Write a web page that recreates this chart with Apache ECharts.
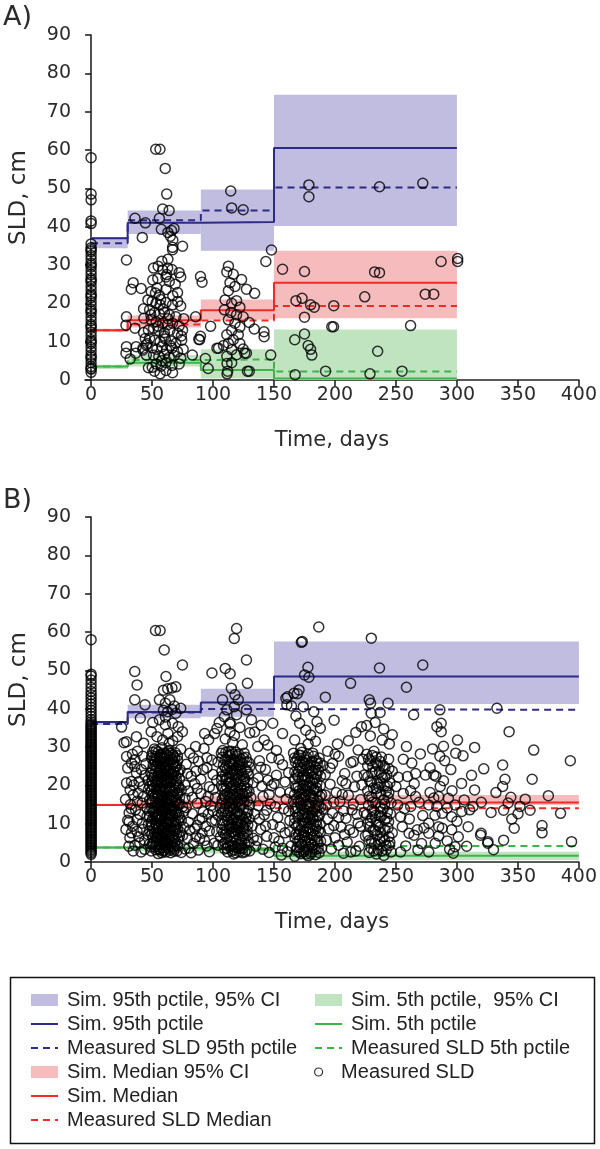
<!DOCTYPE html>
<html><head><meta charset="utf-8">
<script src="https://cdn.jsdelivr.net/npm/echarts@6/dist/echarts.min.js"></script>
<style>html,body{margin:0;padding:0;background:#fff}#c{width:600px;height:1149px}</style>
</head><body><div id="c"></div>
<script>
// ---------- tick labels ----------
const xTickValues = [0, 50, 100, 150, 200, 250, 300, 350, 400];
const yTickValues = [0, 10, 20, 30, 40, 50, 60, 70, 80, 90];
// ---------- time bins ----------
const binEdgesA = [0, 30, 90, 150, 300];
const binEdgesB = [0, 30, 90, 150, 400];
// ---------- Panel A summaries ----------
const simP95A  = [37.0, 41.0, 41.2, 60.5];
const ciP95LoA = [34.4, 38.1, 33.7, 40.2];
const ciP95HiA = [37.3, 44.2, 49.7, 74.4];
const measP95A = [35.7, 41.7, 44.2, 50.2];
const simMedA  = [13.0, 15.6, 18.2, 25.4];
const ciMedLoA = [12.6, 13.7, 15.7, 16.1];
const ciMedHiA = [13.4, 16.8, 21.0, 33.7];
const measMedA = [13.0, 14.5, 15.5, 19.3];
const simP5A   = [3.5, 4.5, 2.6, 0.4];
const ciP5LoA  = [2.9, 3.5, 0.4, 0.0];
const ciP5HiA  = [4.0, 6.5, 8.0, 13.2];
const measP5A  = [3.5, 5.2, 5.4, 2.2];
// ---------- Panel B summaries ----------
const simP95B  = [36.5, 39.1, 41.6, 48.4];
const ciP95LoB = [35.8, 37.5, 37.9, 41.2];
const ciP95HiB = [36.8, 41.0, 45.2, 57.5];
const measP95B = [36.0, 39.0, 39.9, 39.7];
const simMedB  = [14.9, 15.3, 15.5, 15.5];
const ciMedLoB = [14.6, 14.5, 14.6, 14.9];
const ciMedHiB = [15.2, 16.2, 17.3, 17.5];
const measMedB = [14.9, 14.2, 14.8, 14.0];
const simP5B   = [3.8, 3.6, 3.1, 1.6];
const ciP5LoB  = [3.4, 2.8, 2.2, 0.5];
const ciP5HiB  = [4.1, 4.2, 3.8, 2.7];
const measP5B  = [3.8, 3.6, 3.5, 4.2];
// ---------- Panel A measured SLD ----------
const baselineA = [58,48.5,47,41.5,40.8,35.5,34.5,34,33.5,32.5,31.5,30.5,30,29.5,28.5,27.5,26.5,26,25.5,24.5,23.5,22.5,22,21.5,20.5,19.5,18.5,18,17.5,16.5,15.5,14.5,14,13.5,12.5,11.5,10.5,10,9.5,8.5,7.5,6.5,6,5.5,4.5,3.5,3,2.8,2];
const visitsA = [
 [29,31.3],[36,42.2],[42,37.2],[44.5,41],[34.5,25.4],[33,23.7],[41,23.9],[29,16.5],[28.6,14.3],[36,13.5],[43,12.4],[44.4,10.8],[29,8.7],[28.6,7],[37,8.7],[36.6,7],[42.5,7.8],[43,18.6],[46,9.5],[47,3.2],[32,5.5],
 [53,60.2],[56.5,60.2],[60.8,55.2],[62,48.5],[58.7,44.6],[64,44.2],[56,42.2],[57.6,39.3],[63,38.5],[66,39],[68,39.5],[65,37.5],[67,36.5],[66.8,34.6],[66.8,34],[75,34.9],
 [51.2,29.2],[55,29.7],[58.7,28.7],[62.8,29.2],[66.3,28.8],[61.4,26.9],[54.7,26.5],[50.6,26.1],[72.2,28],[73.5,26.9],[70.9,22.8],[64.1,25.7],[49.3,23.1],[52.8,22.7],[56,22.1],[61.4,23.6],[46.6,20.9],[50.1,20.5],[53.3,20],[56.6,19.6],[61.4,20.2],[66.8,19.6],[73.5,19.3],[48,18.3],[52,17.6],[56,17.2],[60.1,17.6],[64.1,17],[69.5,16.5],[43.3,16.1],[49.3,15.7],[53.3,15.2],[58.7,14.8],[62.8,14.4],[66.8,14.8],[72.2,14.1],[51.2,13.5],[55.5,12.9],[60.1,12.4],[64.6,13],[70.9,12.2],[75,13],[48,10.9],[52,10.4],[56.6,10],[60.9,10.7],[65.5,10.2],[69.5,9.6],[74.3,10.4],[45.3,9.1],[50.1,8.4],[53.9,8],[58.2,8.7],[61.9,7.8],[66.3,8.3],[70.9,7.4],[75.5,8],[51.2,6.5],[55.5,6.1],[60.1,6.7],[64.1,5.9],[68.2,6.4],[73.5,5.7],[53.3,4.2],[57.3,3.6],[61.4,4.5],[66.3,3.8],[72.2,4.2],[52,2.3],[56.6,1.6],[61.4,2.5],[66.8,1.9],[50.1,3.3],[45.3,6.5],[42.6,8.3],
 [57,21],[59,18.5],[63,16],[55,14],[60,11.5],[65,9],[58,5],[62,27.5],[54,24],[67,22],[69,25],[71,20.5],[47,13],[49,17],[74,11.5],[76,16],[58,31],[63,31.5],
 [89.7,27],[91,25.5],[89,10.5],[88.3,10.6],[89.7,11.4],[85.7,16.5],[93.7,5.6],[103.2,8.3],[83,6.5],[98,14],[96,3],
 [112.6,29.7],[111.3,28.2],[116.6,27.6],[123.4,26.2],[113.9,25.4],[127.4,23.7],[134.1,22.6],[112.6,23.3],[118,24.4],[109.9,20.9],[115.3,20],[119.3,20.7],[122,19],[109.3,18.3],[114.6,17.6],[119.3,17],[124.7,16.5],[112.6,15.7],[118,14.8],[122,13.8],[115.3,12.9],[111.3,11.8],[120.7,11.8],[116.6,10.5],[112.6,9.6],[122,9.5],[124.7,8.1],[115.3,7.9],[119.3,6.6],[111.3,6.2],[115.3,4.5],[112,2.3],[128.2,2.3],[104.5,8.3],[108.6,9],[126,7],[129.7,15],[133.8,13.3],[141.8,12.6],[127.4,7],
 [114.5,49.3],[115.3,44.9],[124.7,44.4],[143.3,30.9],[147.9,33.9],[141.9,11.3],[147.3,6.5],[111.5,1.6],[129.7,2.3],[111.5,4.3],
 [157,28.9],[175,28.3],[232.5,28.2],[236.5,28],[287,30.9],[300.6,31.7],[300.6,30.9],[168,20.7],[173,21.3],[180,19.6],[183,19],[199,19.4],[175,16.4],[224.4,21.7],[274,22.4],[281,22.4],[197.4,13.9],[198.8,13.9],[262,14.2],[167.3,1.4],[192.3,2.3],[228.7,1.6],[255,2.3],
 [178.6,50.9],[178.6,47.8],[236.5,50.4],[272,51.3],[167,10.5],[175,12],[178,9],[180,8],[181,6.5],[235,7.5]
];
// ---------- Panel B measured SLD ----------
const baselineB = [2,2.4,2.8,3.2,3.6,4,4.4,4.8,5.2,5.6,6,6.4,6.8,7.2,7.6,8,8.4,8.8,9.2,9.6,10,10.4,10.8,11.2,11.6,12,12.4,12.8,13.2,13.6,14,14.4,14.8,15.2,15.6,16,16.4,16.8,17.2,17.6,18,18.4,18.8,19.2,19.6,20,20.4,20.8,21.2,21.6,22,22.4,22.8,23.2,23.6,24,24.4,24.8,25.2,25.6,26,26.4,26.8,27.2,27.6,28,28.4,28.8,29.2,29.6,30,30.4,30.8,31.2,31.6,32,32.4,32.8,33.2,33.6,34,34.4,34.8,35.2,35.6,36,36.6,37.2,38,38.8,39.6,40.4,41.2,42,42.8,43.6,44.5,45.5,46.5,47.5,48.5,49,58];
const visitsB = [
 [25,35.2],[27,31.1],[29,31.4],[37.2,32.7],[43.1,31],[35.8,49.7],[37.7,46.2],[35.8,42.3],[44.2,41],[40.4,37.5],
 [33.1,25.8],[35.8,24.9],[29.1,20.6],[33.1,21],[37.2,23.2],[41.2,24.1],[38.5,18],[42.5,19.7],[46.6,21.3],[28.2,16.3],[32.3,15],[36.4,13.6],[31.2,12.8],[41.9,15.4],[45.9,11.9],[37.7,11],[28.6,8.5],[33.1,7.6],[37.7,8],[31.8,6.3],[42.5,8.5],[46.6,7.2],[34.5,2.9],[43.9,3.3],[39.9,5],[48,4.7],[49.3,2.9],[31.2,10.5],[45.9,14],[34.5,17.5],[43.1,17.1],[39.3,21],[48,16.2],[29.1,27.5],[33.9,28.1],[36,26.7],[42.5,27.6],
 [30,24.5],[32,18.8],[35,20.1],[38,15.9],[40,12.4],[44,22.6],[47,18.9],[30,10.9],[34,9.3],[39,6.6],[44,5.6],[47,9.8],[31,4.1],[36,4.4],[41,2.6],[45,25.6],[38,28.9],[33,13.9],[42,10.1],[48,13.3],
 [52,29.5],[55,28.7],[58,29.8],[61,28.2],[64,29.1],[67,27.8],[54,27.1],[57,26.4],[60,27.3],[63,26.2],[66,26.9],[69,28.5],[71,26.5],[50,27.8],
 [51,25.4],[53,23.8],[56,24.9],[59,23.1],[62,25.6],[65,24.2],[68,23.5],[70,25.1],[55,22.4],[58,25.7],[61,22.8],[64,22.1],[67,25.3],[73,24.1],[49,23.2],
 [50,21.2],[52,19.4],[55,20.8],[57,18.6],[60,21.5],[62,19.2],[65,20.6],[67,18.3],[70,21.3],[72,19.5],[54,18.1],[59,19.9],[63,21.9],[68,20.1],[74,18.8],[48,19.8],
 [50,17.3],[53,15.6],[55,17.7],[58,14.8],[60,16.9],[63,15.3],[65,17.4],[68,14.6],[70,16.2],[73,15.1],[52,14.3],[57,16.3],[61,14.1],[66,15.9],[71,17.6],[75,14.4],[49,15.4],
 [51,13.2],[54,11.5],[56,13.8],[59,10.6],[61,12.7],[64,11.1],[66,13.5],[69,10.8],[72,12.4],[53,10.2],[58,12.1],[62,10.3],[67,11.9],[74,10.9],[48,11.8],[76,13.2],
 [50,9.4],[52,7.5],[55,8.8],[57,6.6],[60,9.1],[62,7.2],[65,8.4],[68,6.3],[70,9.7],[73,7.8],[54,6.1],[59,7.9],[63,9.8],[67,8.1],[75,6.9],[48,8.1],
 [51,5.1],[53,3.2],[56,4.6],[58,2.4],[61,5.5],[63,3.6],[66,4.9],[68,2.8],[71,4.2],[74,2.5],[55,2.2],[60,3.1],[64,5.8],[69,5.4],[49,3.9],[77,3.4],
 [53,27.5],[56,21.6],[59,16.4],[62,12.9],[57,9.9],[60,5.9],[64,19.1],[66,23.1],[55,15.2],[58,11.4],[61,7.4],[63,28.8],[57,24.4],[59,13.3],[54,20.3],[62,17.1],[65,9.2],[56,6.9],[60,24.1],[63,13.9],[58,20.5],[61,18.9],[55,11.9],[64,7.3],[57,28.1],[59,5.2],[62,22.6],
 [50.5,28.6],[53.5,29.1],[56.5,27.9],[59.5,28.4],[62.5,27.7],[65.5,28.3],[68.5,27.1],
 [51.5,26.7],[54.5,25.9],[57.5,27.2],[60.5,26.1],[63.5,25.4],[66.5,26.6],[69.5,24.7],
 [50.5,24.3],[53.5,24.8],[56.5,23.4],[59.5,24.6],[62.5,23.7],[65.5,22.9],[68.5,24.9],[71.5,23.3],
 [51.5,22.1],[54.5,21.4],[57.5,22.8],[60.5,20.6],[63.5,21.2],[66.5,21.8],[69.5,22.5],[72.5,21.7],
 [50.5,20.1],[53.5,18.9],[56.5,19.6],[59.5,18.2],[62.5,20.7],[65.5,19.4],[68.5,18.7],[71.5,19.9],
 [51.5,17.9],[54.5,16.8],[57.5,17.5],[60.5,15.9],[63.5,16.6],[66.5,17.1],[69.5,15.4],[72.5,16.8],
 [50.5,15.9],[53.5,14.6],[56.5,15.7],[59.5,14.2],[62.5,15.1],[65.5,14.3],[68.5,15.8],[71.5,14.9],
 [51.5,13.1],[54.5,12.6],[57.5,13.4],[60.5,11.9],[63.5,12.4],[66.5,12.3],[69.5,13.3],[72.5,11.6],
 [50.5,11.2],[53.5,9.7],[56.5,11.1],[59.5,9.4],[62.5,11.3],[65.5,10.4],[68.5,9.2],[71.5,10.6],
 [51.5,8.6],[54.5,7.4],[57.5,8.3],[60.5,7.1],[63.5,8.2],[66.5,6.9],[69.5,8.4],[72.5,6.7],
 [50.5,6.4],[53.5,5.4],[56.5,5.8],[59.5,4.4],[62.5,5.2],[65.5,4.1],[68.5,4.6],[71.5,5.9],
 [52.5,3.9],[55.5,3.4],[58.5,3.7],[61.5,2.6],[64.5,3.1],[67.5,3.9],[70.5,2.9],
 [49.5,27.1],[52.2,26.2],[55.8,26.8],[58.8,26.9],[61.8,24.4],[64.8,27.4],[67.8,26.1],[70.8,27.7],
 [49.8,22.6],[52.8,21.1],[55.2,23.2],[58.2,22.1],[61.2,21.2],[64.2,23.6],[67.2,22.7],[70.2,20.4],
 [49.2,18.6],[52.2,17.1],[55.8,18.9],[58.8,17.2],[61.8,16.2],[64.8,18.6],[67.8,16.9],[70.8,18.1],
 [49.8,14.1],[52.8,12.2],[55.2,14.9],[58.2,13.6],[61.2,15.6],[64.2,14.2],[67.2,13.9],[70.2,12.7],
 [49.2,10.4],[52.2,11.4],[55.8,9.6],[58.8,8.9],[61.8,10.1],[64.8,12.3],[67.8,10.3],[70.8,8.7],
 [49.8,7.2],[52.8,6.6],[55.2,7.7],[58.2,6.2],[61.2,8.7],[64.2,6.2],[67.2,5.6],[70.2,7.3],
 [50.2,4.6],[53.2,4.4],[56.2,3.1],[59.2,2.9],[62.2,4.1],[65.2,2.4],[68.2,3.4],
 [59.3,44.8],[62.8,45.2],[66.3,45.4],[69.5,45.7],[56,42.3],[60.9,41.4],[64.6,42.3],[68.2,40.7],[59.3,39.6],[62.8,39.2],[66.3,39.8],[69.5,38.8],[73.5,40.1],[50.6,36.4],[56,37.1],[60.9,35.8],[66.8,36.2],[71.4,35.3],[74.9,34],[70.9,32.7],[49.3,34],[54,32.7],[58.7,31.8],[73.5,29.4],[63,33.5],[61,37.8],[64,30.9],[67,31.6],
 [52.8,60.4],[56.6,60.4],[60,55.3],[74.9,51.4],[61.4,48.4],
 [85.7,30.1],[93.1,33.5],[96.4,31.9],[92.6,29.6],[99.1,49.3],[103.2,34.8],[105.1,36.4],[101.3,33.5],
 [78,25.5],[82,22.4],[88,26.3],[95,24.6],[100,22.8],[80,18.5],[85,20.4],[90,17.9],[97,19.6],[102,16.8],[78,14.2],[83,12.6],[87,15.3],[92,13.1],[98,14.7],[104,12.2],[80,10.4],[85,8.7],[89,11.1],[94,9.3],[99,10.6],[103,7.9],[79,6.2],[84,4.8],[88,3.1],[93,5.6],[97,2.7],[101,4.9],[82,2.4],[91,7.5],[96,12.5],[86,23.7],[77,20.1],[81,28.4],[95,27.2],[90,21.6],[104,26.1],[76,9.1],[86,6.6],[100,18.9],
 [77,16.6],[79,23.1],[83,16.9],[87,19.2],[91,11.4],[94,15.8],[97,8.1],[100,13.4],[103,21.3],[81,8.3],[84,27.1],[89,6.1],[95,4.2],[99,26.6],[102,10.9],[80,3.6],[92,24.1],[96,17.1],[87,9.6],[104,4.4],
 [119.3,60.9],[117.4,58.3],[127.4,52.7],[110,50.5],[114,49.1],[128.2,46.6],[115,45.3],[118,43.6],[120.7,42.3],[117.4,40.5],[119.3,38.4],[107.8,42.3],[111.3,39.7],[109.3,37.9],[113.9,36],[113.9,33.9],[117.6,33],[114,36.4],[127.4,39.7],[131.5,37.1],[134.1,33.9],[130.1,33.7],[122,35.1],[116,31.2],[124,30.6],[110,32.1],
 [108,29.1],[112,27.6],[115,28.9],[118,26.4],[121,28.1],[124,25.7],[127,27.3],[130,24.8],[110,24.6],[114,23.1],[117,25.2],[120,22.4],[123,23.9],[126,21.6],[129,22.9],[133,20.7],[107,21.5],[111,19.8],[115,20.9],[118,18.7],[121,20.3],[124,17.9],[128,19.2],[131,16.8],[109,17.2],[113,15.9],[116,17.4],[119,14.6],[122,16.1],[125,13.8],[130,14.9],[134,12.5],[106,14.1],[110,12.3],[114,13.4],[117,11.2],[120,12.8],[123,10.5],[127,11.7],[132,9.4],[108,9.8],[111,8.3],[115,9.6],[118,7.4],[121,8.9],[124,6.8],[128,8.1],[133,6.2],[106,6.5],[110,5.1],[113,6.9],[116,4.3],[119,5.7],[122,3.5],[126,4.8],[130,2.9],[112,2.6],[117,2.1],[124,2.4],[135,4.1],
 [113,26.1],[116,22.7],[119,19.5],[114,16.6],[117,13.9],[120,10.1],[115,7.7],[118,3.9],[121,25.3],[123,19.1],[116,28.2],[112,10.9],[120,15.7],[125,9.2],[111,21.8],[119,24.3],[122,6.1],[114,18.3],
 [107.5,27.3],[110.5,28.6],[113.5,27.9],[116.5,26.8],[119.5,27.7],[122.5,26.9],[125.5,28.4],
 [108.5,25.3],[111.5,24.1],[114.5,25.6],[117.5,23.8],[120.5,24.9],[123.5,22.8],[126.5,24.2],[129.5,25.9],
 [107.5,22.4],[110.5,21.3],[113.5,22.1],[116.5,20.2],[119.5,21.6],[122.5,21.1],[125.5,19.7],[128.5,20.8],
 [108.5,19.1],[111.5,17.9],[114.5,19.4],[117.5,16.2],[120.5,18.1],[123.5,16.4],[126.5,17.8],[129.5,18.4],
 [107.5,16.3],[110.5,15.1],[113.5,14.4],[116.5,15.4],[119.5,13.1],[122.5,14.4],[125.5,15.9],[128.5,13.2],
 [108.5,13.2],[111.5,12.1],[114.5,11.6],[117.5,12.5],[120.5,10.8],[123.5,12.1],[126.5,10.2],[129.5,11.3],
 [107.5,10.9],[110.5,9.4],[113.5,8.6],[116.5,9.1],[119.5,8.2],[122.5,9.9],[125.5,7.4],[128.5,9.7],
 [108.5,7.6],[111.5,6.3],[114.5,5.4],[117.5,6.6],[120.5,4.6],[123.5,5.6],[126.5,6.2],[129.5,5.1],
 [109.5,3.4],[112.5,4.2],[115.5,2.9],[118.5,2.4],[121.5,2.7],[124.5,3.6],[127.5,3.1],
 [106.8,28.4],[109.8,26.6],[112.8,28.8],[115.8,25.8],[118.8,28.6],[121.8,26.1],[124.8,27.1],[127.8,26.2],
 [107.2,23.6],[110.2,22.7],[113.2,24.9],[116.2,23.9],[119.2,22.9],[122.2,24.1],[125.2,22.3],[128.2,23.6],
 [106.8,19.9],[109.8,18.6],[112.8,20.6],[115.8,18.9],[118.8,20.9],[121.8,17.6],[124.8,21.1],[127.8,18.1],
 [107.2,15.3],[110.2,16.9],[113.2,17.1],[116.2,14.1],[119.2,16.7],[122.2,15.2],[125.2,17.2],[128.2,15.9],
 [106.8,12.6],[109.8,13.9],[112.8,12.9],[115.8,11.1],[118.8,10.4],[121.8,12.3],[124.8,11.1],[127.8,12.8],
 [107.2,8.4],[110.2,7.2],[113.2,9.9],[116.2,7.9],[119.2,9.3],[122.2,7.6],[125.2,8.7],[128.2,6.9],
 [108.2,4.6],[111.2,3.6],[114.2,4.1],[117.2,3.2],[120.2,3.7],[123.2,4.4],[126.2,2.6],
 [142,31.8],[136.7,30.1],[144.9,30.5],[139.5,35.7],[159.7,42.7],[161.1,43.1],[160.5,41],[164.3,40.7],
 [138,26.4],[143,24.1],[148,27.2],[152,22.6],[157,25.4],[162,23.3],[140,19.8],[146,17.6],[150,20.5],[155,18.2],[160,16.4],[137,14.7],[142,12.3],[147,15.1],[153,11.6],[158,13.9],[163,10.8],[139,8.5],[144,6.7],[149,9.8],[154,5.4],[159,7.6],[164,4.2],[141,3.3],[146,2.5],[151,3.9],[156,1.8],[161,2.7],[145,21.3],[152,29.1],[157,33.5],[149,36.2],[163,18.1],[138,11.2],
 [137,21.9],[141,17.1],[144,13.5],[148,19.9],[151,14.4],[155,9.1],[159,20.9],[162,13.3],[136,5.6],[143,9.4],[150,6.3],[157,3.6],[163,7.9],[139,24.7],[154,26.8],
 [166.4,44],[170.5,44.9],[172.4,57.3],[173.2,57.5],[186.7,61.3],[177.8,50.8],[175.1,48.8],[178.6,48.2],[169.1,43.9],[192.1,43],[174,40.5],[182.6,39.2],[185.3,36.6],[199.3,37],[168,38.1],[171,36.2],[176,34.4],[180,33.1],[184,31.5],[188,34.9],[167,31.8],[172,29.6],[178,30.8],
 [166,28.4],[169,26.9],[172,27.8],[175,25.6],[178,28.1],[181,26.3],[184,24.7],[187,27.1],[190,25.2],[167,23.5],[170,22.1],[173,24.3],[176,21.4],[179,23.2],[182,20.6],[185,22.8],[188,19.9],[168,19.3],[171,17.8],[174,20.1],[177,18.4],[180,16.9],[183,18.7],[186,16.1],[189,17.6],[166,15.8],[169,14.2],[172,16.4],[175,13.6],[178,15.2],[181,12.9],[184,14.6],[187,12.1],[190,13.8],[167,11.4],[170,9.8],[173,12.2],[176,10.4],[179,8.9],[182,11.3],[185,9.5],[188,7.8],[168,7.2],[171,5.9],[174,8.1],[177,6.4],[180,4.7],[183,6.9],[186,5.2],[189,3.6],[169,3.8],[172,2.2],[175,3.1],[178,1.6],[181,2.6],[184,1.9],[167,1.5],[187,2.4],
 [173,21.3],[176,17.2],[179,13.9],[174,10.1],[177,25.1],[180,19.4],[172,14.7],[175,6.8],[178,11.8],[182,23.4],[171,26.1],[184,8.6],
 [167.5,26.1],[170.5,27.9],[173.5,26.2],[176.5,27.4],[179.5,25.4],[182.5,27.6],[185.5,25.7],
 [168.5,22.8],[171.5,24.5],[174.5,22.6],[177.5,21.9],[180.5,23.8],[183.5,21.7],[186.5,23.9],
 [167.5,19.9],[170.5,18.6],[173.5,19.2],[176.5,19.8],[179.5,17.7],[182.5,19.1],[185.5,18.3],
 [168.5,16.6],[171.5,15.3],[174.5,16.9],[177.5,14.4],[180.5,15.6],[183.5,13.8],[186.5,14.9],
 [167.5,13.2],[170.5,12.6],[173.5,10.9],[176.5,12.4],[179.5,11.1],[182.5,9.8],[185.5,11.9],
 [168.5,9.4],[171.5,8.3],[174.5,7.2],[177.5,8.6],[180.5,7.4],[183.5,5.6],[186.5,8.1],
 [169.5,5.4],[172.5,4.6],[175.5,5.2],[178.5,3.9],[181.5,4.4],[184.5,3.3],[170.5,2.6],[176.5,2.1],
 [166.8,27.1],[169.8,25.3],[172.8,28.6],[175.8,26.6],[178.8,24.6],[181.8,28.4],[184.8,26.4],[187.8,25.8],
 [167.2,21.7],[170.2,23.6],[173.2,22.3],[176.2,23.9],[179.2,20.9],[182.2,22.1],[185.2,20.7],[188.2,22.4],
 [166.8,17.6],[169.8,19.7],[172.8,17.9],[175.8,18.6],[178.8,19.9],[181.8,17.3],[184.8,19.4],[187.8,17.1],
 [167.2,14.1],[170.2,15.9],[173.2,13.8],[176.2,15.1],[179.2,14.6],[182.2,16.4],[185.2,13.2],[188.2,14.3],
 [166.8,10.1],[169.8,11.6],[172.8,9.4],[175.8,11.6],[178.8,10.2],[181.8,11.9],[184.8,10.6],[187.8,9.9],
 [167.2,6.3],[170.2,7.1],[173.2,6.6],[176.2,7.9],[179.2,5.9],[182.2,8.1],[185.2,6.7],[188.2,5.4],
 [168.2,3.1],[171.2,3.9],[174.2,2.6],[177.2,3.3],[180.2,2.1],[183.2,3.8],[186.2,3.6],
 [212.8,46.6],[217.1,33.8],[221.7,35.3],[194,28.9],[198,25.7],[203,27.6],[208,23.1],[213,25.9],[218,22.4],[223,26.8],[196,20.3],[201,18.1],[206,21.2],[211,17.4],[216,19.6],[221,16.3],[193,14.9],[198,12.7],[204,15.8],[209,11.4],[214,13.6],[219,10.2],[224,12.9],[195,8.6],[200,6.3],[205,9.1],[210,5.2],[215,7.7],[220,4.1],[225,6.8],[197,3.4],[207,2.3],[217,2.9],[192,17.5],[202,30.8],[211,31.6],[219,29.2],[207,13.3],
 [192,22.8],[196,24.5],[199,15.6],[203,11.7],[206,17.6],[209,20.4],[212,8.4],[215,15.1],[218,12.4],[222,20.1],[194,11.2],[199,9.5],[203,4.4],[208,7.2],[213,2.6],[221,9.3],[224,22.7],[200,28.1],[215,26.2],[193,5.7],
 [229.8,58.4],[236.5,50.6],[228.1,42.3],[229.2,41.4],[243.5,41.4],[229.7,38.8],[237,39],[229,32.9],[238.7,31.8],[244.6,30.8],[226,35.6],[233,36.4],[240,34.7],[247,33.2],
 [226,28.1],[229,26.4],[232,28.9],[235,25.3],[238,27.4],[241,24.6],[244,26.8],[247,23.7],[227,22.3],[230,20.8],[233,23.6],[236,19.5],[239,21.9],[242,18.4],[245,20.7],[228,17.1],[231,15.6],[234,17.9],[237,14.3],[240,16.2],[243,13.1],[246,15.4],[226,12.4],[229,10.7],[232,13.3],[235,9.6],[238,11.8],[241,8.4],[244,10.5],[247,7.6],[227,7.1],[230,5.4],[233,8.2],[236,4.6],[239,6.3],[242,3.2],[245,5.1],[228,2.5],[234,2.1],[240,1.7],[246,2.6],[231,24.9],[237,9.1],[243,19.8],[233,12.1],[238,22.7],
 [227.5,26.9],[230.5,27.8],[233.5,25.9],[236.5,23.4],[239.5,25.2],[242.5,22.7],[228.5,21.1],[231.5,19.3],[234.5,20.6],[237.5,17.6],[240.5,19.8],[243.5,16.9],[227.5,14.8],[230.5,13.6],[233.5,15.4],[236.5,12.1],[239.5,13.8],[242.5,11.4],[228.5,9.2],[231.5,8.4],[234.5,6.9],[237.5,7.7],[240.5,5.6],[243.5,8.9],[229.5,3.6],[232.5,4.9],[235.5,3.2],[238.5,2.9],[244.5,4.3],[245.5,12.6],
 [226.8,25.1],[230.2,23.2],[233.8,27.4],[237.2,26.2],[240.8,22.1],[244.2,24.3],[226.8,18.6],[230.2,16.9],[233.8,19.1],[237.2,20.7],[240.8,15.1],[244.2,18.1],[226.8,10.1],[230.2,11.6],[233.8,10.4],[237.2,13.1],[240.8,10.9],[244.2,6.6],[227.8,5.6],[231.8,2.9],[236.8,5.9],[241.8,4.4],
 [250,19.7],[259.4,22.3],[266.1,23.1],[274.2,22.7],[281,22.7],[282.8,22.4],[286.3,19.7],[285,17.1],[293,16.6],[276.9,14.9],[283.6,14.5],[298.4,14.9],[303.8,20.5],[310.5,13.6],[314.5,18.8],[313.2,14.5],[295.7,11.8],[285,9.2],[276.9,10.1],[295.7,8.4],[301.1,6.6],[309.2,9.2],[319.9,7.5],[325.3,4.9],[267.5,8.4],[260.7,7.5],[264.8,7],[255.2,9.2],[253.8,11.8],[262.1,14.5],[266.1,17.1],[251.4,14.9],[276.9,7.5],[282.2,4.9],[297,2.3],[298.4,4],[276.9,2.6],[253.8,2.6],
 [258.6,45.6],[272,51.4],[264.5,38.4],[286,39.7],[258.6,30.1],[287.1,36.2],[283.6,35.3],[287.1,34],[300.5,31.8],[290,26.4],[270,28.2],[256,26.8],[280,29.5],[295,24.1],[262,18.6],[288,12.7],[272,12.1],[292,5.5],[258,4.2],[268,3.1],[286,27.6],[289,30.2],[299,28.4],[278,18.1],
 [252,22.1],[256,17.9],[261,11.2],[265,20.4],[269,15.6],[273,8.9],[278,24.6],[282,12.2],[285,6.8],[289,21.2],[292,14.1],[296,18.6],[300,10.6],[304,13.2],[271,4.8],[263,25.8],[281,16.7],[294,3.3],[257,13.9],[288,8.8],
 [314.5,29.9],[332.8,40.1],[342.8,34],[363,29.2],[393,26.4],[337.5,25.3],[339.4,21.6],[361.7,21.6],[344.2,16.9],[351.7,14.5],[369.8,9.5],[369.8,7.6],[394,5.3],[338.3,5.7],[325.4,5.3],[319.4,7],[350.1,12.6],[338.3,13.5],[342,15.4],[337.5,19.7],[320,15.6],[328,12.9],[332,18.1],[345,11.2],[356,16.4],[312,22.6],[322,24.3],[306,16.2],[308,4.1],[330,3.2],[347,8.8],[360,13.5],[375,17.3],[385,12.7],[305,27.7]
];

// ---------- colours ----------
const C = {
  blueBand: '#c0bde0', blueLine: '#2e2b86',
  redBand: '#f6bcbd', redLine: '#ee2b24',
  greenBand: '#c0e3c0', greenLine: '#3cb44a'
};
const N = {
  ci95: 'Sim. 95th pctile, 95% CI', sim95: 'Sim. 95th pctile', meas95: 'Measured SLD 95th pctile',
  ciMed: 'Sim. Median 95% CI', simMed: 'Sim. Median', measMed: 'Measured SLD Median',
  ci5: 'Sim. 5th pctile,  95% CI', sim5: 'Sim. 5th pctile', meas5: 'Measured SLD 5th pctile',
  meas: 'Measured SLD'
};
const DASH = [7, 5];

function bandRows(edges, lo, hi) { return lo.map((v, i) => [edges[i], edges[i + 1], v, hi[i]]); }
function stepRows(edges, vals) {
  const r = vals.map((v, i) => [edges[i], v]);
  r.push([edges[edges.length - 1], vals[vals.length - 1]]);
  return r;
}
function bandSeries(name, g, rows, color) {
  return {
    type: 'custom', name, xAxisIndex: g, yAxisIndex: g, z: 1, silent: true,
    itemStyle: { color },
    encode: { x: [0, 1], y: [2, 3] },
    data: rows,
    renderItem(params, api) {
      const p0 = api.coord([api.value(0), api.value(3)]);
      const p1 = api.coord([api.value(1), api.value(2)]);
      return { type: 'rect', shape: { x: p0[0], y: p0[1], width: p1[0] - p0[0], height: p1[1] - p0[1] }, style: { fill: color } };
    }
  };
}
function stepSeries(name, g, rows, color, dashed) {
  return {
    type: 'line', name, xAxisIndex: g, yAxisIndex: g, z: 3, step: 'end', symbol: 'none', silent: true,
    itemStyle: { color },
    lineStyle: { color, width: 2, type: dashed ? DASH : 'solid' },
    data: rows
  };
}
function scatterSeries(g, pts) {
  return {
    type: 'scatter', name: N.meas, xAxisIndex: g, yAxisIndex: g, z: 5, symbol: 'circle', symbolSize: 10, silent: true,
    itemStyle: { color: 'rgba(255,255,255,0)', borderColor: '#000', borderWidth: 1.5 },
    data: pts
  };
}
function panelSeries(g, edges, s) {
  return [
    bandSeries(N.ci95, g, bandRows(edges, s.ci95lo, s.ci95hi), C.blueBand),
    bandSeries(N.ciMed, g, bandRows(edges, s.ciMedlo, s.ciMedhi), C.redBand),
    bandSeries(N.ci5, g, bandRows(edges, s.ci5lo, s.ci5hi), C.greenBand),
    stepSeries(N.meas95, g, stepRows(edges, s.meas95), C.blueLine, true),
    stepSeries(N.sim95, g, stepRows(edges, s.sim95), C.blueLine, false),
    stepSeries(N.measMed, g, stepRows(edges, s.measMed), C.redLine, true),
    stepSeries(N.simMed, g, stepRows(edges, s.simMed), C.redLine, false),
    stepSeries(N.meas5, g, stepRows(edges, s.meas5), C.greenLine, true),
    stepSeries(N.sim5, g, stepRows(edges, s.sim5), C.greenLine, false),
    scatterSeries(g, s.pts)
  ];
}
const ptsA = baselineA.map(v => [0, v]).concat(visitsA);
const ptsB = baselineB.map(v => [0, v]).concat(visitsB);

const AXC = '#222';
const TXT = '#2b2b2b';
function xAxisFor(g) {
  return {
    type: 'value', gridIndex: g, min: -5, max: 400,
    axisLine: { onZero: false, lineStyle: { color: AXC, width: 1.6 } },
    axisTick: { customValues: xTickValues, length: 6, lineStyle: { color: AXC, width: 1.6 } },
    axisLabel: { customValues: xTickValues, fontSize: 19, fontFamily: 'DejaVu Sans', color: TXT, margin: 6 },
    splitLine: { show: false },
    name: 'Time, days', nameLocation: 'middle', nameGap: 50,
    nameTextStyle: { fontSize: 21, fontFamily: 'DejaVu Sans', color: TXT }
  };
}
function yAxisFor(g) {
  return {
    type: 'value', gridIndex: g, min: 0, max: 90, interval: 10,
    axisLine: { show: true, onZero: true, lineStyle: { color: AXC, width: 1.6 } },
    axisTick: { show: true, length: 6, lineStyle: { color: AXC, width: 1.6 } },
    axisLabel: { fontSize: 19, fontFamily: 'DejaVu Sans', color: TXT, margin: 14 },
    splitLine: { show: false },
    name: 'SLD, cm', nameLocation: 'middle', nameGap: 54,
    nameTextStyle: { fontSize: 23, fontFamily: 'DejaVu Sans', color: TXT, padding: [0, 0, 0, 20] }
  };
}
const LFONT = { fontSize: 20, fontFamily: 'Liberation Sans', color: '#222', padding: [0, 0, 0, 4] };
const HIDE_SYM = { opacity: 0 };
const option = {
  animation: false,
  backgroundColor: '#fff',
  title: [
    { text: 'A)', left: 3, top: 4, padding: 0, textStyle: { fontSize: 27, fontWeight: 'normal', fontFamily: 'DejaVu Sans', color: TXT } },
    { text: 'B)', left: 3, top: 487, padding: 0, textStyle: { fontSize: 27, fontWeight: 'normal', fontFamily: 'DejaVu Sans', color: TXT } }
  ],
  grid: [
    { left: 78, right: 21, top: 35, height: 345 },
    { left: 78, right: 21, top: 517, height: 345 }
  ],
  xAxis: [xAxisFor(0), xAxisFor(1)],
  yAxis: [yAxisFor(0), yAxisFor(1)],
  legend: [
    { orient: 'vertical', left: 30, top: 990, padding: 0, itemWidth: 27, itemHeight: 12, itemGap: 4, selectedMode: false, textStyle: LFONT,
      data: [
        { name: N.ci95, icon: 'rect', itemStyle: { color: C.blueBand } },
        { name: N.sim95, itemStyle: HIDE_SYM }, { name: N.meas95, itemStyle: HIDE_SYM },
        { name: N.ciMed, icon: 'rect', itemStyle: { color: C.redBand } },
        { name: N.simMed, itemStyle: HIDE_SYM }, { name: N.measMed, itemStyle: HIDE_SYM }
      ] },
    { orient: 'vertical', left: 314, top: 990, padding: 0, itemWidth: 27, itemHeight: 12, itemGap: 4, selectedMode: false, textStyle: LFONT,
      data: [
        { name: N.ci5, icon: 'rect', itemStyle: { color: C.greenBand } },
        { name: N.sim5, itemStyle: HIDE_SYM }, { name: N.meas5, itemStyle: HIDE_SYM }
      ] },
    { orient: 'vertical', left: 314, top: 1062, padding: 0, itemWidth: 27, itemHeight: 8, itemGap: 4, selectedMode: false, textStyle: LFONT,
      data: [ { name: N.meas, icon: 'circle', itemStyle: { color: '#fff', borderColor: '#000', borderWidth: 1.2 } } ] }
  ],
  graphic: [
    { type: 'rect', left: 8, top: 975, shape: { width: 584, height: 166 }, style: { fill: 'none', stroke: '#111', lineWidth: 1.5 } }
  ],
  series: [].concat(
    panelSeries(0, binEdgesA, { ci95lo: ciP95LoA, ci95hi: ciP95HiA, ciMedlo: ciMedLoA, ciMedhi: ciMedHiA, ci5lo: ciP5LoA, ci5hi: ciP5HiA,
      meas95: measP95A, sim95: simP95A, measMed: measMedA, simMed: simMedA, meas5: measP5A, sim5: simP5A, pts: ptsA }),
    panelSeries(1, binEdgesB, { ci95lo: ciP95LoB, ci95hi: ciP95HiB, ciMedlo: ciMedLoB, ciMedhi: ciMedHiB, ci5lo: ciP5LoB, ci5hi: ciP5HiB,
      meas95: measP95B, sim95: simP95B, measMed: measMedB, simMed: simMedB, meas5: measP5B, sim5: simP5B, pts: ptsB })
  )
};
const chart = echarts.init(document.getElementById('c'), null, { renderer: 'canvas' });
chart.setOption(option);
</script>
</body></html>
